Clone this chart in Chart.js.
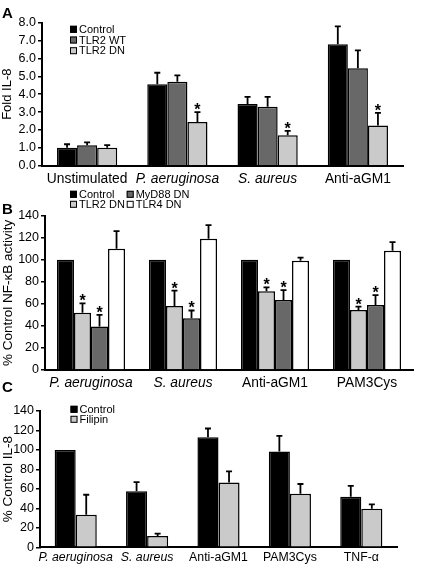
<!DOCTYPE html>
<html>
<head>
<meta charset="utf-8">
<script src="https://cdn.jsdelivr.net/npm/chart.js@4"></script>
<style>
  html, body { margin: 0; padding: 0; background: #fff; }
  #wrap { position: relative; width: 421px; height: 567px; overflow: hidden; }
  #wrap canvas { position: absolute; left: 0; }
</style>
</head>
<body>
<div id="wrap">
  <canvas id="chartA" width="421" height="192" style="top:0px"></canvas>
  <canvas id="chartB" width="421" height="212" style="top:185px"></canvas>
  <canvas id="chartC" width="421" height="191" style="top:376px"></canvas>
</div>
<script>
// Panel A - fold IL-8
const groupsA = ['Unstimulated', 'P. aeruginosa', 'S. aureus', 'Anti-aGM1'];
const controlA = [1.0, 4.55, 3.45, 6.8];
const controlErrA = [0.2, 0.65, 0.4, 1.0];
const tlr2wtA = [1.15, 4.7, 3.3, 5.45];
const tlr2wtErrA = [0.15, 0.35, 0.55, 1.0];
const tlr2dnA = [1.0, 2.45, 1.7, 2.25];
const tlr2dnErrA = [0.15, 0.55, 0.25, 0.7];
const tlr2dnStarA = [false, true, true, true];

// Panel B - % control NF-kB activity
const groupsB = ['P. aeruginosa', 'S. aureus', 'Anti-aGM1', 'PAM3Cys'];
const controlB = [100, 100, 100, 100];
const tlr2dnB = [52, 58, 71.5, 54.5];
const tlr2dnErrB = [8.5, 14, 3.5, 3];
const myd88B = [39.5, 47, 63.5, 59];
const myd88ErrB = [10.5, 7, 9, 9];
const tlr4dnB = [110, 119, 99.2, 108.3];
const tlr4dnErrB = [16, 12.5, 2.8, 7.7];
const starB = [true, true, true, true];

// Panel C - % control IL-8
const groupsC = ['P. aeruginosa', 'S. aureus', 'Anti-aGM1', 'PAM3Cys', 'TNF-α'];
const controlC = [100, 57.5, 113, 98.5, 52];
const controlErrC = [0, 9.5, 9, 16, 11];
const filipinC = [33.5, 11.5, 66.5, 55, 39.5];
const filipinErrC = [20.5, 2.5, 11.5, 10, 4.5];

const italicLabels = ['P. aeruginosa', 'S. aureus'];
const FONT = '"Liberation Sans", Arial, Helvetica, sans-serif';

Chart.defaults.font.family = FONT;
Chart.defaults.color = '#000';

const BLACK = '#000000', DARK = '#686868', LIGHT = '#cacaca', WHITE = '#ffffff';

// error bars (upper only) + asterisks
const errorBars = {
  id: 'errorBars',
  afterDatasetsDraw(chart) {
    const ctx = chart.ctx, y = chart.scales.y;
    ctx.save();
    ctx.strokeStyle = '#000';
    ctx.fillStyle = '#000';
    ctx.lineWidth = 1.8;
    chart.data.datasets.forEach((ds, di) => {
      const meta = chart.getDatasetMeta(di);
      meta.data.forEach((bar, i) => {
        const v = ds.data[i];
        const e = ds.errors ? ds.errors[i] : 0;
        let top = y.getPixelForValue(v);
        if (e) {
          const ep = y.getPixelForValue(v + e);
          ctx.beginPath();
          ctx.moveTo(bar.x, top);
          ctx.lineTo(bar.x, ep);
          ctx.moveTo(bar.x - 3, ep);
          ctx.lineTo(bar.x + 3, ep);
          ctx.stroke();
          top = ep;
        }
        if (ds.stars && ds.stars[i]) {
          ctx.font = 'bold 16px ' + FONT;
          ctx.textAlign = 'center';
          ctx.textBaseline = 'alphabetic';
          ctx.fillText('*', bar.x, top + 3);
        }
      });
    });
    ctx.restore();
  }
};

// panel letter + little legend
const panelDecor = {
  id: 'panelDecor',
  afterDraw(chart, args, opts) {
    const ctx = chart.ctx;
    ctx.save();
    ctx.fillStyle = '#000';
    ctx.font = 'bold 15px ' + FONT;
    ctx.textAlign = 'left';
    ctx.textBaseline = 'alphabetic';
    ctx.fillText(opts.letter, opts.letterX, opts.letterY);
    ctx.font = '11px ' + FONT;
    ctx.textBaseline = 'middle';
    chart.data.datasets.forEach((ds, i) => {
      const col = Math.floor(i / opts.rows), row = i % opts.rows;
      const x = opts.x + col * opts.colW, yy = opts.y + row * opts.rowH;
      ctx.fillStyle = ds.backgroundColor;
      ctx.fillRect(x, yy - 3.5, 7, 7);
      ctx.strokeStyle = '#000';
      ctx.lineWidth = 1;
      ctx.strokeRect(x + 0.5, yy - 3, 6, 6);
      ctx.fillStyle = '#000';
      ctx.fillText(ds.label, x + 9, yy + 0.5);
    });
    ctx.restore();
  }
};

function makePanel(id, cfg) {
  return new Chart(document.getElementById(id), {
    type: 'bar',
    data: { labels: cfg.labels, datasets: cfg.datasets },
    options: {
      responsive: false,
      animation: false,
      layout: { padding: { top: cfg.top, right: cfg.right, left: 0, bottom: 0 } },
      datasets: {
        bar: { categoryPercentage: cfg.catPct, barPercentage: 1, borderColor: '#000', borderWidth: 1.5, borderSkipped: 'bottom' }
      },
      plugins: { legend: { display: false }, tooltip: { enabled: false }, panelDecor: cfg.decor },
      scales: {
        x: {
          afterFit: s => { s.height = cfg.xHeight; },
          grid: { display: false, drawTicks: false },
          border: { display: true, color: '#000', width: 2 },
          ticks: {
            padding: cfg.xPad, maxRotation: 0, autoSkip: false,
            font: c => ({ size: cfg.xFont, style: italicLabels.includes(cfg.labels[c.index]) ? 'italic' : 'normal' })
          }
        },
        y: {
          min: 0, max: cfg.max,
          afterFit: s => { s.width = cfg.yWidth; },
          grid: { drawOnChartArea: false, drawTicks: true, tickLength: 4, color: '#000', lineWidth: 1.5 },
          border: { display: true, color: '#000', width: 2 },
          ticks: { stepSize: cfg.step, autoSkip: false, padding: 2, font: { size: 12.5 }, callback: cfg.fmt },
          title: { display: true, text: cfg.yTitle, font: { size: cfg.titleSize }, padding: { top: 0, bottom: 0 } }
        }
      }
    },
    plugins: [errorBars, panelDecor]
  });
}

makePanel('chartA', {
  labels: groupsA, top: 22.7, right: 18, xHeight: 26.3, yWidth: 42, catPct: 0.667,
  xFont: 13.8, xPad: 5,
  max: 8, step: 1, fmt: v => Number(v).toFixed(1), yTitle: 'Fold IL-8', titleSize: 13,
  decor: { letter: 'A', letterX: 2, letterY: 17.5, x: 70, y: 29.3, rows: 3, rowH: 10.7, colW: 0 },
  datasets: [
    { label: 'Control', data: controlA, errors: controlErrA, backgroundColor: BLACK },
    { label: 'TLR2 WT', data: tlr2wtA, errors: tlr2wtErrA, backgroundColor: DARK },
    { label: 'TLR2 DN', data: tlr2dnA, errors: tlr2dnErrA, stars: tlr2dnStarA, backgroundColor: LIGHT }
  ]
});

makePanel('chartB', {
  labels: groupsB, top: 30.7, right: 8, xHeight: 27, yWidth: 45, catPct: 0.74,
  xFont: 13.8, xPad: 5,
  max: 140, step: 20, fmt: v => v, yTitle: '% Control NF-κB activity', titleSize: 13.5,
  decor: { letter: 'B', letterX: 2, letterY: 28.5, x: 70, y: 9.3, rows: 2, rowH: 10, colW: 56.7 },
  datasets: [
    { label: 'Control', data: controlB, backgroundColor: BLACK },
    { label: 'TLR2 DN', data: tlr2dnB, errors: tlr2dnErrB, stars: starB, backgroundColor: LIGHT },
    { label: 'MyD88 DN', data: myd88B, errors: myd88ErrB, stars: starB, backgroundColor: DARK },
    { label: 'TLR4 DN', data: tlr4dnB, errors: tlr4dnErrB, backgroundColor: WHITE }
  ]
});

makePanel('chartC', {
  labels: groupsC, top: 35, right: 24, xHeight: 19.7, yWidth: 40, catPct: 0.59,
  xFont: 12.3, xPad: 3,
  max: 140, step: 20, fmt: v => v, yTitle: '% Control IL-8', titleSize: 13.5,
  decor: { letter: 'C', letterX: 2, letterY: 16, x: 70.5, y: 33.3, rows: 2, rowH: 10, colW: 0 },
  datasets: [
    { label: 'Control', data: controlC, errors: controlErrC, backgroundColor: BLACK },
    { label: 'Filipin', data: filipinC, errors: filipinErrC, backgroundColor: LIGHT }
  ]
});
</script>
</body>
</html>
